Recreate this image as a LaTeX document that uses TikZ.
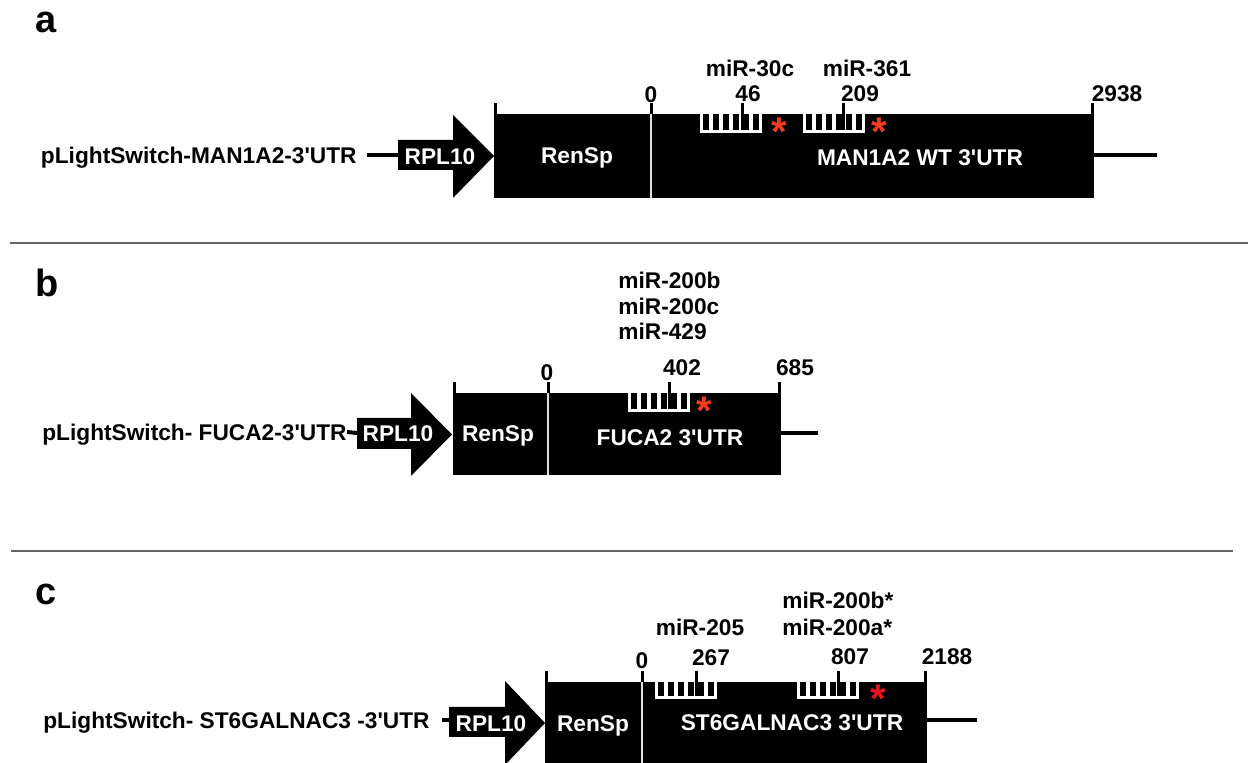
\documentclass[tikz,border=0pt]{standalone}
\usepackage{fontspec}
\setmainfont{Liberation Sans}
\definecolor{sepgray}{RGB}{100,100,100}
\definecolor{starA}{RGB}{245,60,30}
\definecolor{starC}{RGB}{230,20,30}
\newcommand{\myap}{\textquotesingle}
\tikzset{
  lbl/.style={font=\bfseries\fontsize{11.35}{13}\selectfont, inner sep=0pt, text height=8.1pt, text depth=0pt},
  wlbl/.style={lbl, text=white},
  panel/.style={font=\bfseries\fontsize{19}{22}\selectfont, inner sep=0pt, anchor=base west},
  wire/.style={line width=2pt},
  tick/.style={line width=1.5pt},
  divider/.style={draw=gray!25, line width=0.6pt},
  sepline/.style={draw=sepgray, line width=1pt},
  star/.style={font=\bfseries\fontsize{20}{20}\selectfont, inner sep=0pt, anchor=base, text height=8pt, text depth=0pt}
}
\newcommand{\mirsite}[4]{%
  \fill[white] (#1,#2) rectangle ++(62,#3);
  \foreach \k in {0,...,5}{\fill[black] ({#1+3+10*\k},#2) rectangle ++(6,{#3-3});}
  \draw[tick] (#4,{#2-11}) -- (#4,{#2+#3-3});
}
\begin{document}
\begin{tikzpicture}[x=0.5pt,y=-0.5pt]
\clip (0,0) rectangle (1248,763);
\fill[white] (0,0) rectangle (1248,763);

% separators
\draw[sepline] (10,243) -- (1248,243);
\draw[sepline] (11,551) -- (1233,551);

% ---------------- panel a ----------------
\node[panel] (pa) at (35,33) {a};
\node[lbl, anchor=east] (ca) at (357,155) {pLightSwitch-MAN1A2-3\myap UTR};
\coordinate (arA) at (398,155);
\fill (398,140) -- (453,140) -- (453,115) -- (494,156) -- (453,198) -- (453,170) -- (398,170) -- cycle;
\node[wlbl] (rplA) at (440,156) {RPL10};
\draw[wire] ([xshift=5pt]ca.east) -- (arA);
\fill (494,114) rectangle (1094,198);
\coordinate (endA) at (1094,155);
\coordinate (freeA) at (1157,155);
\draw[wire] (endA) -- (freeA);
\draw[divider] (651,114) -- (651,198);
\draw[tick] (495.5,103) -- (495.5,114);
\draw[tick] (651,103) -- (651,114);
\draw[tick] (1092.5,103) -- (1092.5,114);
\mirsite{700}{114}{19}{742}
\mirsite{803}{114}{19}{843}
\node[star, text=starA] (sA1) at (779,146) {*};
\node[star, text=starA] (sA2) at (879,146) {*};
\node[lbl] (zA) at (651,94) {0};
\node[lbl] (n46) at (748,93) {46};
\node[lbl] (n209) at (860,93) {209};
\node[lbl] (n2938) at (1117,93) {2938};
\node[lbl] (m30c) at (750,68) {miR-30c};
\node[lbl] (m361) at (867,68) {miR-361};
\node[wlbl] (renA) at (577,155) {RenSp};
\node[wlbl] (utrA) at (920,157) {MAN1A2 WT 3\myap UTR};

% ---------------- panel b ----------------
\node[panel] (pb) at (35,297) {b};
\node[lbl, anchor=east] (cb) at (347,432) {pLightSwitch- FUCA2-3\myap UTR};
\coordinate (arB) at (357,433);
\fill (357,418) -- (411,418) -- (411,393) -- (452,434.5) -- (411,476) -- (411,449) -- (357,449) -- cycle;
\node[wlbl] (rplB) at (398,433) {RPL10};
\draw[wire] (cb.east) -- (arB);
\fill (453,393) rectangle (781,475);
\coordinate (endB) at (781,433);
\coordinate (freeB) at (818,433);
\draw[wire] (endB) -- (freeB);
\draw[divider] (548,393) -- (548,475);
\draw[tick] (454.5,382) -- (454.5,393);
\draw[tick] (548,382) -- (548,393);
\draw[tick] (779.5,382) -- (779.5,393);
\mirsite{628}{393}{19}{669}
\node[star, text=starA] (sB) at (704,425) {*};
\node[lbl] (zB) at (547,372) {0};
\node[lbl] (n402) at (682,367) {402};
\node[lbl] (n685) at (795,367) {685};
\node[lbl, anchor=west] (m200b) at (618,280) {miR-200b};
\node[lbl, anchor=west] (m200c) at (618,306) {miR-200c};
\node[lbl, anchor=west] (m429) at (618,331) {miR-429};
\node[wlbl] (renB) at (498,433) {RenSp};
\node[wlbl] (utrB) at (670,437) {FUCA2 3\myap UTR};

% ---------------- panel c ----------------
\node[panel] (pc) at (35,605) {c};
\node[lbl, anchor=east] (cc) at (430,720) {pLightSwitch- ST6GALNAC3 -3\myap UTR};
\coordinate (arC) at (449,720);
\fill (449,707) -- (505,707) -- (505,681) -- (545,723) -- (505,765) -- (505,737) -- (449,737) -- cycle;
\node[wlbl] (rplC) at (491,723) {RPL10};
\draw[wire] ([xshift=6pt]cc.east) -- (arC);
\fill (545,682) rectangle (927,766);
\coordinate (endC) at (927,720);
\coordinate (freeC) at (977,720);
\draw[wire] (endC) -- (freeC);
\draw[divider] (642,682) -- (642,766);
\draw[tick] (546.5,671) -- (546.5,682);
\draw[tick] (642,671) -- (642,682);
\draw[tick] (925.5,671) -- (925.5,682);
\mirsite{655}{682}{17}{696}
\mirsite{797}{682}{17}{838}
\node[star, text=starC] (sC) at (878,713) {*};
\node[lbl] (zC) at (642,660) {0};
\node[lbl] (n267) at (711,657) {267};
\node[lbl] (n807) at (850,656) {807};
\node[lbl] (n2188) at (947,656) {2188};
\node[lbl] (m205) at (700,627) {miR-205};
\node[lbl, anchor=west] (m200bs) at (782,600) {miR-200b*};
\node[lbl, anchor=west] (m200as) at (782,627) {miR-200a*};
\node[wlbl] (renC) at (593,723) {RenSp};
\node[wlbl] (utrC) at (792,722) {ST6GALNAC3 3\myap UTR};
\end{tikzpicture}
\end{document}
